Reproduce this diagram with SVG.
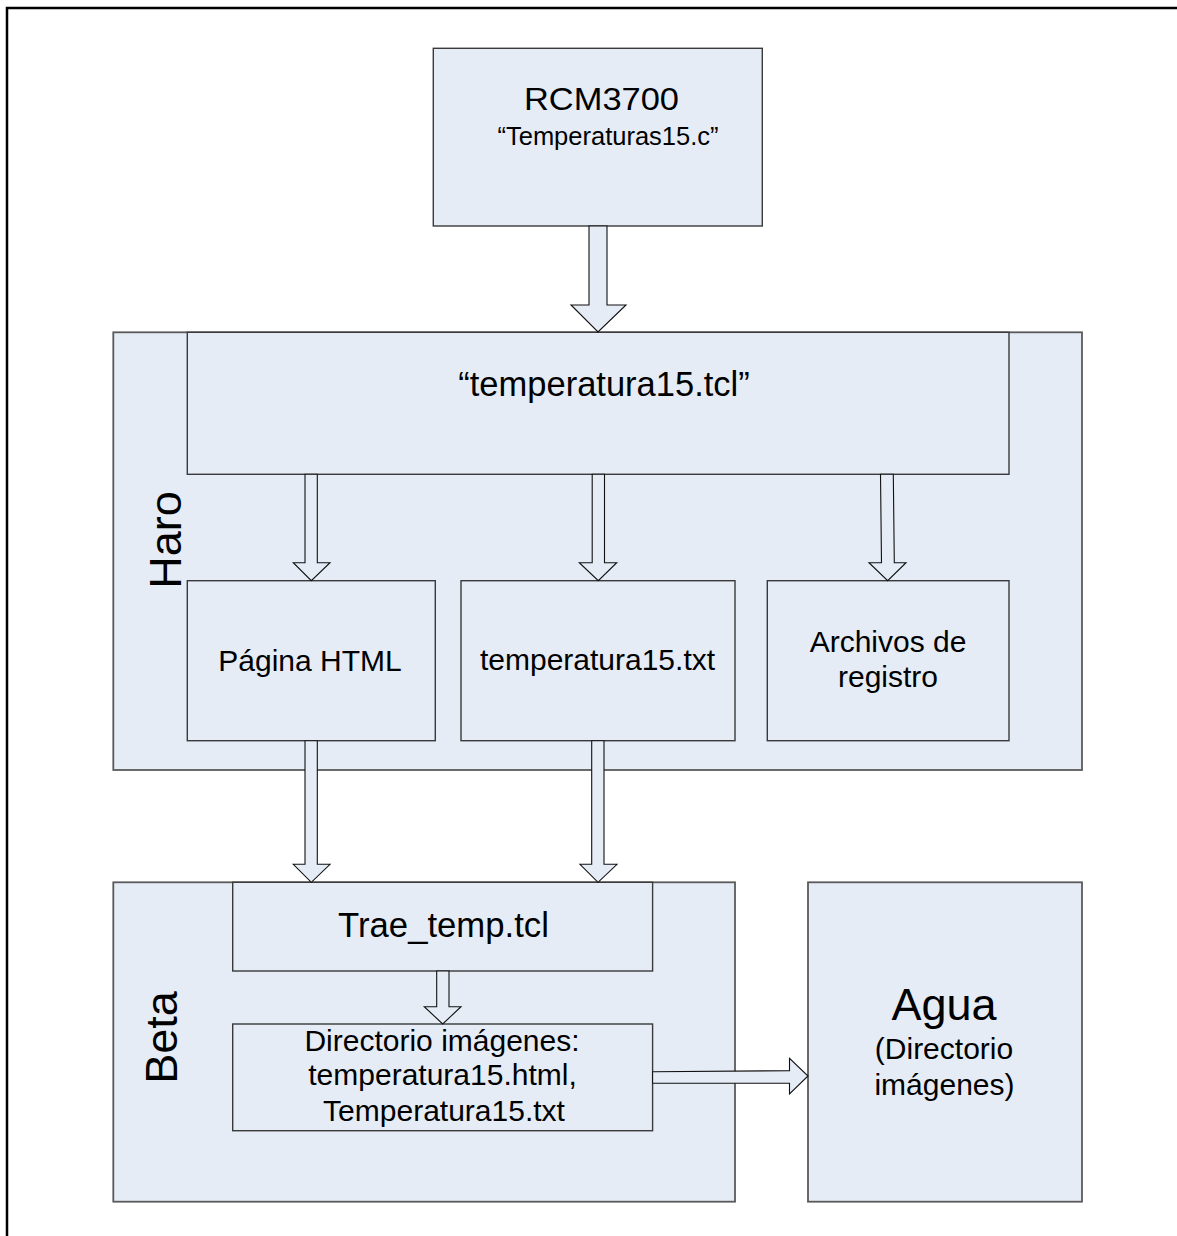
<svg xmlns="http://www.w3.org/2000/svg" width="1177" height="1236" viewBox="0 0 1177 1236">
<style>
.box{fill:#E5ECF6;stroke:#3a3a3a;stroke-width:1.4}
.cont{fill:#E5ECF6;stroke:#5a5a5a;stroke-width:1.8}
.arr{fill:#E5ECF6;stroke:#111;stroke-width:1.1;stroke-linejoin:miter}
text{font-family:"Liberation Sans",Arial,sans-serif;fill:#000;text-anchor:middle}
</style>
<rect width="1177" height="1236" fill="#fff"/>
<path d="M7,1236 V8 H1177" fill="none" stroke="#000" stroke-width="2.5"/>
<g id="rcm3700">
<rect class="box" x="433.3" y="48.3" width="329" height="177.7"/>
<text x="601.5" y="110" font-size="31" textLength="155" lengthAdjust="spacingAndGlyphs">RCM3700</text>
<text x="608" y="145" font-size="25.5">“Temperaturas15.c”</text>
</g>
<g id="haro">
<rect class="cont" x="113.3" y="332.3" width="968.7" height="437.7"/>
<text transform="translate(181,540) rotate(-90)" font-size="45">Haro</text>
</g>
<g id="temperatura15-tcl">
<rect class="box" x="187.3" y="332.3" width="821.7" height="142"/>
<text x="604" y="396" font-size="34.5">“temperatura15.tcl”</text>
</g>
<g id="pagina-html">
<rect class="box" x="187.3" y="580.7" width="248" height="160"/>
<text x="310" y="671" font-size="30">Página HTML</text>
</g>
<g id="temperatura15-txt">
<rect class="box" x="461" y="580.7" width="274" height="160"/>
<text x="597.5" y="670" font-size="30">temperatura15.txt</text>
</g>
<g id="archivos">
<rect class="box" x="767.3" y="580.7" width="241.7" height="160"/>
<text x="888" y="652" font-size="30">Archivos de</text>
<text x="888" y="687" font-size="30">registro</text>
</g>
<g id="beta">
<rect class="cont" x="113.3" y="882.3" width="621.7" height="319.4"/>
<text transform="translate(177.3,1037.5) rotate(-90)" font-size="45">Beta</text>
</g>
<g id="trae-temp">
<rect class="box" x="232.7" y="882.3" width="419.9" height="88.7"/>
<text x="443.5" y="937" font-size="34.7">Trae_temp.tcl</text>
</g>
<g id="directorio">
<rect class="box" x="232.7" y="1024" width="419.9" height="106.7"/>
<text x="442" y="1050.7" font-size="30">Directorio imágenes:</text>
<text x="442.5" y="1085" font-size="30">temperatura15.html,</text>
<text x="444" y="1120.7" font-size="30">Temperatura15.txt</text>
</g>
<g id="agua">
<rect class="cont" x="808" y="882.3" width="274" height="319.4"/>
<text x="944" y="1020" font-size="45">Agua</text>
<text x="944" y="1059" font-size="30">(Directorio</text>
<text x="944.5" y="1095" font-size="30">imágenes)</text>
</g>
<g id="connectors">
<path class="arr" d="M589,226 H607 V305 H626 L598,332 L571,305 H589 Z"/>
<path class="arr" d="M305,474.3 H317.3 V562.7 H330 L311.3,580.7 L293.3,562.7 H305 Z"/>
<path class="arr" d="M592.2,474.3 H604.5 V562.7 H616.7 L598.3,580.7 L579.3,562.7 H592.2 Z"/>
<path class="arr" d="M880.5,474.3 H893.3 L894.3,562.7 H906 L887.7,580.7 L869,562.7 H881.5 Z"/>
<path class="arr" d="M305,740.7 H317.3 V864.3 H330 L311.3,882.3 L293.3,864.3 H305 Z"/>
<path class="arr" d="M591.7,740.7 H604 V864.3 H617 L598,882.3 L580,864.3 H591.7 Z"/>
<path class="arr" d="M436.7,971 H449 V1006.7 H461 L442.7,1024 L424.3,1006.7 H436.7 Z"/>
<path class="arr" d="M652.6,1071.7 L789.5,1070.7 V1058.3 L808,1076 L789.5,1094 V1083.3 H652.6 Z"/>
</g>
</svg>
